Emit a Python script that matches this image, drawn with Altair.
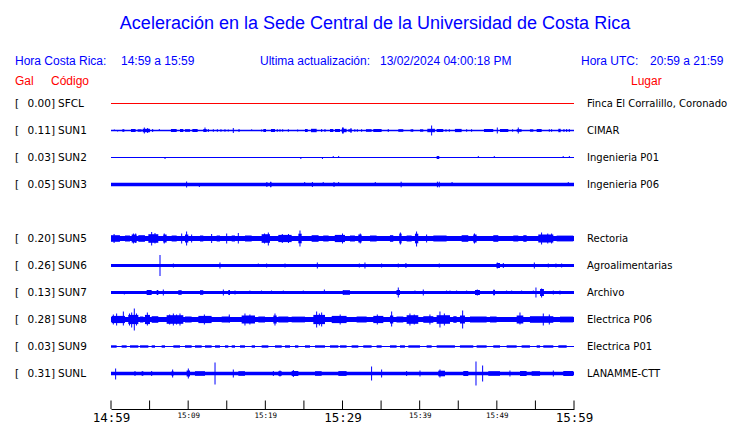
import altair as alt
import pandas as pd

TITLE = "Aceleración en la Sede Central de la Universidad de Costa Rica"
HDR_CR_LABEL = "Hora Costa Rica:"
HDR_CR_RANGE = "14:59 a 15:59"
HDR_UPD_LABEL = "Ultima actualización:"
HDR_UPD_VALUE = "13/02/2024 04:00:18 PM"
HDR_UTC_LABEL = "Hora UTC:"
HDR_UTC_RANGE = "20:59 a 21:59"
COL_GAL = "Gal"
COL_CODE = "Código"
COL_PLACE = "Lugar"

CODES = ["SFCL", "SUN1", "SUN2", "SUN3", "SUN5", "SUN6", "SUN7", "SUN8", "SUN9", "SUNL"]
ROWS = [0, 1, 2, 3, 5, 6, 7, 8, 9, 10]
GAL = [0.00, 0.11, 0.03, 0.05, 0.20, 0.26, 0.13, 0.28, 0.03, 0.31]
PLACES = ["Finca El Corralillo, Coronado", "CIMAR", "Ingenieria P01", "Ingenieria P06",
          "Rectoria", "Agroalimentarias", "Archivo", "Electrica P06", "Electrica P01", "LANAMME-CTT"]
BASE_AMP = [0.5, 0.75, 0.5, 1.7, 2.6, 1.6, 1.6, 2.6, 0.5, 1.7]

TICK_MINUTES = [0, 5, 10, 15, 20, 25, 30, 35, 40, 45, 50, 55, 60]
TICK_LABELS = ["14:59", "", "15:09", "", "15:19", "", "15:29", "", "15:39", "", "15:49", "", "15:59"]

# bursts: (start minute, end minute, half amplitude)
SUN1_BURSTS = [(1.47, 1.73, 1.3), (2.59, 3.19, 1.5), (3.45, 3.97, 1.2), (4.10, 5.05, 1.7), (7.77, 8.51, 1.5),
               (8.94, 9.37, 1.5), (9.59, 10.24, 1.3), (10.54, 11.23, 1.5), (11.96, 12.40, 1.5), (19.74, 20.09, 1.5),
               (20.73, 21.25, 1.5), (25.14, 25.49, 1.5), (25.92, 26.65, 1.7), (28.38, 28.81, 1.5), (29.03, 29.68, 1.5),
               (29.89, 30.53, 1.7), (30.75, 31.2, 1.2), (33.04, 33.77, 1.3), (33.99, 35.07, 1.5), (37.23, 37.88, 1.3),
               (40.04, 40.47, 1.2), (40.99, 41.98, 1.7), (42.2, 43.06, 1.5), (44.57, 45.44, 1.6), (48.33, 49.54, 1.5),
               (50.41, 51.49, 1.5), (52.57, 53.21, 1.3), (54.29, 54.73, 1.2), (55.16, 55.81, 1.5), (57.97, 58.27, 1.7)]
SUN1_SPIKES = [(0.43, 1, 0.5), (0.86, 0.5, 1), (4.32, 3, 3), (4.75, 2.5, 2.5), (5.4, 1.5, 1.5), (6.26, 1.5, 0.5),
               (12.18, 3, 0.5), (12.61, 1.5, 1.5), (13.26, 1.3, 1.3), (13.78, 1.3, 1.3), (14.25, 1.3, 1.3),
               (14.77, 1.3, 1.3), (15.2, 1, 1), (15.85, 2.5, 2.5), (16.59, 1.5, 1.5), (18.23, 1.2, 0),
               (19.52, 1, 1), (21.55, 1.3, 1.3), (21.9, 1.3, 1.3), (22.25, 1.3, 1.3), (22.98, 1.3, 1.3),
               (24.19, 1, 1), (27.3, 1.5, 1.5), (27.73, 1.5, 1.5), (30.0, 3, 3), (30.1, 3, 3), (31.1, 2.5, 2.5),
               (31.6, 1.3, 1.3), (31.92, 1.3, 1.3), (32.48, 1.3, 1.3), (35.93, 1.5, 1.5), (38.9, 1.5, 1.5),
               (39.1, 1.5, 1.5), (41.55, 5, 5), (43.41, 1.3, 1.3), (43.84, 1.3, 1.3), (46.09, 1.3, 1.3),
               (46.73, 1.3, 1.3), (50.06, 3, 3), (52.05, 1.3, 1.3), (52.78, 3, 3), (56.8, 1.3, 1.3),
               (57.1, 1.3, 1.3), (58.7, 1.5, 1.5), (59.05, 1.5, 1.5), (59.39, 1.5, 1.5)]

SUN2_BURSTS = [(42.2, 42.54, 1.5)]
SUN2_SPIKES = [(7.0, 0, 1.5), (24.6, 0, 1.5), (27.4, 0, 1.5), (28.8, 1.5, 0), (29.5, 1.5, 0),
               (47.6, 1.5, 0), (49.67, 1.5, 0), (58.6, 1.5, 0), (59.4, 1.5, 0)]

SUN3_BURSTS = [(20.6, 20.8, 2.2)]
SUN3_SPIKES = [(9.8, 3, 3), (11.45, 0, 2.5), (20.2, 2.5, 2.5), (20.7, 2.8, 2.8), (25.1, 2.5, 0.5),
               (26.1, 2.5, 2.5), (27.5, 2.5, 0), (28.9, 2.5, 2.5), (29.5, 2.5, 0), (34.25, 2.5, 0),
               (37.6, 2.8, 2.8), (42.3, 2.8, 2.8), (42.54, 2.8, 2.8), (44.2, 2.5, 0), (59.26, 2.5, 0)]

SUN5_BURSTS = [(0.0, 1.16, 3.3), (1.81, 2.46, 3.0), (2.68, 3.32, 4), (3.54, 4.4, 3.3), (4.84, 6.13, 4.3),
               (6.78, 7.21, 4), (7.86, 8.51, 3.0), (9.59, 10.02, 4), (11.53, 11.96, 3.0), (13.69, 14.12, 3.0),
               (15.64, 16.07, 3.0), (17.36, 18.23, 3.0), (19.52, 20.6, 4.3), (21.68, 23.41, 3.6),
               (24.28, 24.71, 4.8), (26.0, 26.9, 3.3), (27.5, 28.2, 3.0), (29.0, 30.32, 3.6), (30.97, 31.61, 3.0),
               (32.05, 32.48, 4), (33.56, 34.42, 3.0), (36.15, 36.58, 3.3), (37.36, 37.66, 4.8), (38.31, 38.96, 3.0),
               (39.39, 39.82, 4.8), (41.77, 43.49, 3.0), (45.44, 46.3, 3.3), (46.95, 47.38, 4), (49.54, 50.19, 3.3),
               (52.13, 52.78, 3.0), (53.43, 53.86, 3.3), (55.37, 57.32, 4), (57.75, 59.9, 2.9)]
SUN5_SPIKES = [(0.4, 4.5, 4.5), (2.9, 5, 5), (3.2, 5, 4.5), (5.27, 6.5, 7), (5.7, 5.5, 5), (6.9, 5, 5),
               (9.16, 5, 5), (9.8, 7, 7), (10.45, 4, 4), (13.04, 4.5, 4.5), (14.99, 5, 5),
               (16.5, 5.5, 5), (19.9, 5, 5), (20.39, 6, 7), (22.2, 4.5, 4.5), (23.0, 4.5, 4.5), (24.49, 8, 8),
               (30.0, 5, 5), (32.3, 5, 5), (37.5, 6, 6), (39.6, 7, 8), (40.9, 4, 4), (47.1, 5, 5),
               (55.8, 6, 6), (56.6, 5, 5), (57.1, 5, 5)]

SUN6_BURSTS = [(49.97, 50.41, 2.5)]
SUN6_SPIKES = [(6.35, 10.5, 10.5), (8.08, 2, 2), (14.12, 3, 3), (19.09, 2, 0), (20.17, 2, 2), (22.55, 2, 2),
               (26.74, 3, 3), (32.18, 2, 2), (32.91, 3, 3), (35.07, 2, 2), (37.23, 2, 2), (38.22, 2.5, 2.5),
               (42.54, 2, 2), (50.06, 3, 3), (50.84, 2.5, 2.5), (54.86, 3, 3), (56.67, 2, 2), (57.66, 2, 2),
               (58.4, 2, 2)]

SUN7_BURSTS = [(4.62, 5.27, 2.5), (5.92, 6.13, 2.5), (8.72, 9.16, 2.3), (11.53, 11.96, 2.3), (15.2, 15.42, 2.5),
               (30.1, 30.97, 2.3), (37.0, 37.45, 2.5), (47.17, 47.81, 2.5), (49.54, 49.76, 2.5), (55.6, 56.1, 3.5)]
SUN7_SPIKES = [(1.73, 1, 2), (6.78, 3, 3), (14.56, 3, 3), (16.07, 2, 2), (18.0, 2, 1), (19.5, 2, 1),
               (20.8, 2, 1), (22.33, 2, 1), (24.92, 2, 1), (27.65, 3, 1), (30.1, 2.5, 2.5), (37.23, 5, 5),
               (39.39, 2, 1), (40.47, 3, 3), (43.49, 2, 1), (43.93, 2, 1), (44.79, 2, 1), (46.09, 2, 1),
               (47.47, 3, 3), (49.63, 3, 3), (51.27, 2, 1), (51.92, 2, 1), (53.21, 2, 1), (54.73, 2, 1),
               (55.07, 5, 5), (55.8, 4, 5), (57.32, 2, 2), (58.18, 2, 2)]

SUN8_BURSTS = [(0.08, 1.81, 3.6), (2.24, 3.54, 4.6), (3.76, 4.19, 3.0), (4.4, 5.05, 4.6), (5.27, 6.13, 3.3),
               (7.21, 9.37, 4.3), (9.59, 10.45, 3.0), (11.32, 13.04, 3.6), (14.34, 15.42, 3.0), (16.93, 18.66, 4),
               (19.09, 19.96, 3.0), (21.04, 21.47, 4), (21.68, 22.98, 3.0), (23.41, 25.14, 2.9), (26.22, 27.73, 4.6),
               (28.6, 30.53, 3.6), (31.83, 33.13, 3.0), (33.99, 35.29, 3.6), (36.15, 36.58, 4), (37.0, 37.88, 3.0),
               (38.31, 39.82, 4.3), (40.47, 41.77, 3.3), (42.2, 43.93, 4.3), (44.36, 44.79, 3.3), (45.22, 45.87, 4),
               (46.52, 48.68, 3.0), (49.11, 49.97, 3.0), (52.57, 53.43, 4), (54.29, 57.32, 3.3), (58.18, 59.9, 2.9)]
SUN8_SPIKES = [(0.3, 5, 5), (0.73, 6, 6), (1.6, 8, 6), (2.4, 6, 6), (2.68, 7, 8), (3.02, 11, 11), (3.3, 6, 6),
               (4.71, 7, 6), (7.6, 5, 5), (8.08, 6, 6), (8.5, 5, 5), (8.94, 6, 6), (12.1, 5, 5), (15.33, 5, 3),
               (17.36, 6, 6), (18.0, 5, 5), (21.25, 6, 6), (26.65, 8, 8), (27.0, 6, 6), (27.3, 7, 7),
               (29.7, 5, 5), (34.51, 5, 5), (36.37, 8, 7), (38.74, 6, 6), (39.3, 5, 5), (41.33, 5, 5),
               (42.63, 8, 8), (43.2, 6, 6), (45.57, 9, 9), (53.0, 7, 5), (56.02, 6, 6), (56.8, 5, 5)]

SUN9_BURSTS = [(0.0, 0.73, 1.2), (1.38, 2.03, 1.2), (2.46, 3.54, 1.2), (3.76, 4.84, 1.2), (5.27, 5.7, 1.2),
               (6.56, 7.0, 1.2), (8.08, 8.94, 1.2), (9.59, 10.45, 1.2), (10.88, 11.75, 1.2), (12.18, 13.04, 1.2),
               (13.48, 14.12, 1.2), (14.77, 15.2, 1.2), (15.64, 16.07, 1.2), (16.72, 17.36, 1.2), (18.23, 18.66, 1.2),
               (19.52, 20.39, 1.2), (21.25, 22.12, 1.2), (22.55, 23.2, 1.2), (23.84, 24.28, 1.2), (25.14, 25.79, 1.2),
               (26.44, 27.73, 1.2), (28.38, 29.46, 1.2), (29.68, 30.53, 1.2), (31.18, 32.05, 1.2), (32.69, 33.77, 1.2),
               (34.42, 35.07, 1.2), (36.15, 37.01, 1.2), (37.45, 38.09, 1.2), (38.53, 40.04, 1.2), (40.9, 41.55, 1.2),
               (42.2, 44.57, 1.2), (45.22, 46.95, 1.2), (47.38, 48.68, 1.2), (49.54, 50.41, 1.2), (51.27, 52.57, 1.2),
               (53.21, 54.29, 1.2), (55.16, 55.6, 1.2), (56.02, 57.32, 1.2), (57.97, 59.05, 1.2)]
SUN9_SPIKES = []

SUNL_BURSTS = [(3.97, 4.19, 2.3), (7.86, 8.08, 2.5), (9.8, 10.24, 3), (10.88, 12.18, 2.3), (16.5, 17.36, 2.3),
               (21.68, 22.12, 2.3), (23.41, 24.28, 2.5), (26.44, 27.3, 2.3), (29.46, 30.53, 2.4), (42.41, 43.28, 2.8),
               (45.65, 46.3, 2.5), (48.89, 50.41, 2.3), (53.0, 53.86, 2.5), (54.51, 55.6, 2.3), (58.61, 59.9, 2.5)]
SUNL_SPIKES = [(0.6, 5, 6), (3.11, 2.5, 2.5), (5.27, 2.5, 2.5), (7.99, 4, 4), (10.02, 5, 5), (13.48, 11, 11),
               (15.85, 4, 4), (21.04, 2.5, 2.5), (21.9, 3, 3), (23.63, 3.5, 3.5), (33.77, 7, 7), (35.07, 4, 4),
               (38.31, 2.5, 2.5), (40.04, 3, 3), (42.63, 4, 4), (47.3, 12, 12), (48.16, 8, 8), (51.7, 3, 3),
               (57.32, 3, 3)]

BURSTS = {"SUN1": SUN1_BURSTS, "SUN2": SUN2_BURSTS, "SUN3": SUN3_BURSTS, "SUN5": SUN5_BURSTS,
          "SUN6": SUN6_BURSTS, "SUN7": SUN7_BURSTS, "SUN8": SUN8_BURSTS, "SUN9": SUN9_BURSTS,
          "SUNL": SUNL_BURSTS}
SPIKES = {"SUN1": SUN1_SPIKES, "SUN2": SUN2_SPIKES, "SUN3": SUN3_SPIKES, "SUN5": SUN5_SPIKES,
          "SUN6": SUN6_SPIKES, "SUN7": SUN7_SPIKES, "SUN8": SUN8_SPIKES, "SUN9": SUN9_SPIKES,
          "SUNL": SUNL_SPIKES}

# ---- layout ----
BLUE = "#0000ff"
RED = "#ff0000"
W, H = 463, 319
ROW0, STEP = 13.5, 27


def center(row):
    return ROW0 + STEP * row


row_of = dict(zip(CODES, ROWS))

rect_rows = []
for code, row, base in zip(CODES, ROWS, BASE_AMP):
    c = center(row)
    col = RED if code == "SFCL" else BLUE
    rect_rows.append(dict(x=0, x2=60, y=c - base, y2=c + base, color=col))
    for s, e, h in BURSTS.get(code, []):
        rect_rows.append(dict(x=s, x2=e, y=c - h, y2=c + h, color=col))
rects = pd.DataFrame(rect_rows)

spike_rows = []
for code, lst in SPIKES.items():
    c = center(row_of[code])
    for t, up, down in lst:
        spike_rows.append(dict(x=t, y=c - up, y2=c + down))
spikes = pd.DataFrame(spike_rows)

labels = pd.DataFrame({
    "code": CODES,
    "gal": [f"{g:.2f}]" for g in GAL],
    "place": PLACES,
    "y": [center(r) for r in ROWS],
})
ticks = pd.DataFrame({"x": TICK_MINUTES})

label_expr = "[" + ",".join(f"'{t}'" for t in TICK_LABELS) + "][round(datum.value / 5)]"
AXIS = alt.Axis(values=TICK_MINUTES, ticks=False, grid=False, domainColor="black", domainWidth=1,
                labelExpr=label_expr, labelFont="DejaVu Sans Mono",
                labelFontSize={"condition": {"test": "datum.value % 30 == 0", "value": 12.5}, "value": 7.5},
                labelColor="black", labelPadding=2, labelFlush=False, labelOverlap=False, title=None)
XS = alt.Scale(domain=[0, 60], nice=False, zero=False)
YS = alt.Scale(domain=[0, H], reverse=True, nice=False, zero=False)

x_enc = alt.X("x:Q", scale=XS, axis=AXIS)
y_enc = alt.Y("y:Q", scale=YS, axis=None)

band = alt.Chart(rects).mark_rect().encode(
    x=x_enc, x2="x2:Q", y=y_enc, y2="y2:Q", color=alt.Color("color:N", scale=None))
spk = alt.Chart(spikes).mark_rule(color=BLUE, strokeWidth=1).encode(x=x_enc, y=y_enc, y2="y2:Q")
tk = alt.Chart(ticks).mark_rule(color="black", strokeWidth=1).encode(
    x=x_enc, y=alt.value(H - 8.5), y2=alt.value(H))

LBL = dict(font="DejaVu Sans", fontSize=10.5, color="black", baseline="alphabetic", dy=3.5)
bracket = alt.Chart(labels).mark_text(text="[", align="left", **LBL).encode(x=alt.value(-96), y=y_enc)
galtxt = alt.Chart(labels).mark_text(align="right", **LBL).encode(x=alt.value(-56), y=y_enc, text="gal:N")
codetxt = alt.Chart(labels).mark_text(align="left", **LBL).encode(x=alt.value(-53), y=y_enc, text="code:N")
placetxt = alt.Chart(labels).mark_text(
    align="left", font="DejaVu Sans", fontSize=10, color="black", baseline="alphabetic", dy=3.5
).encode(x=alt.value(476), y=y_enc, text="place:N")


def header(text, x, y, color=BLUE, size=12, align="left"):
    return alt.Chart(pd.DataFrame({"t": [text]})).mark_text(
        font="Liberation Sans", fontSize=size, color=color, align=align, baseline="alphabetic"
    ).encode(text="t:N", x=alt.value(x), y=alt.value(y))


headers = [
    header(TITLE, 264, -61, size=18, align="center"),
    header(HDR_CR_LABEL, -96, -25.5),
    header(HDR_CR_RANGE, 10, -25.5),
    header(HDR_UPD_LABEL, 149, -25.5),
    header(HDR_UPD_VALUE, 269, -25.5),
    header(HDR_UTC_LABEL, 470, -25.5),
    header(HDR_UTC_RANGE, 539, -25.5),
    header(COL_GAL, -96, -5, color=RED),
    header(COL_CODE, -60, -5, color=RED),
    header(COL_PLACE, 520, -5, color=RED),
]

chart = alt.layer(band, spk, tk, bracket, galtxt, codetxt, placetxt, *headers).properties(
    width=W, height=H,
    padding={"left": 103, "right": 158, "top": 82, "bottom": 14},
    autosize="none",
    background="white",
).configure_view(strokeWidth=0, stroke=None)

chart.save("out.html", embed_options={"renderer": "svg", "actions": False})
